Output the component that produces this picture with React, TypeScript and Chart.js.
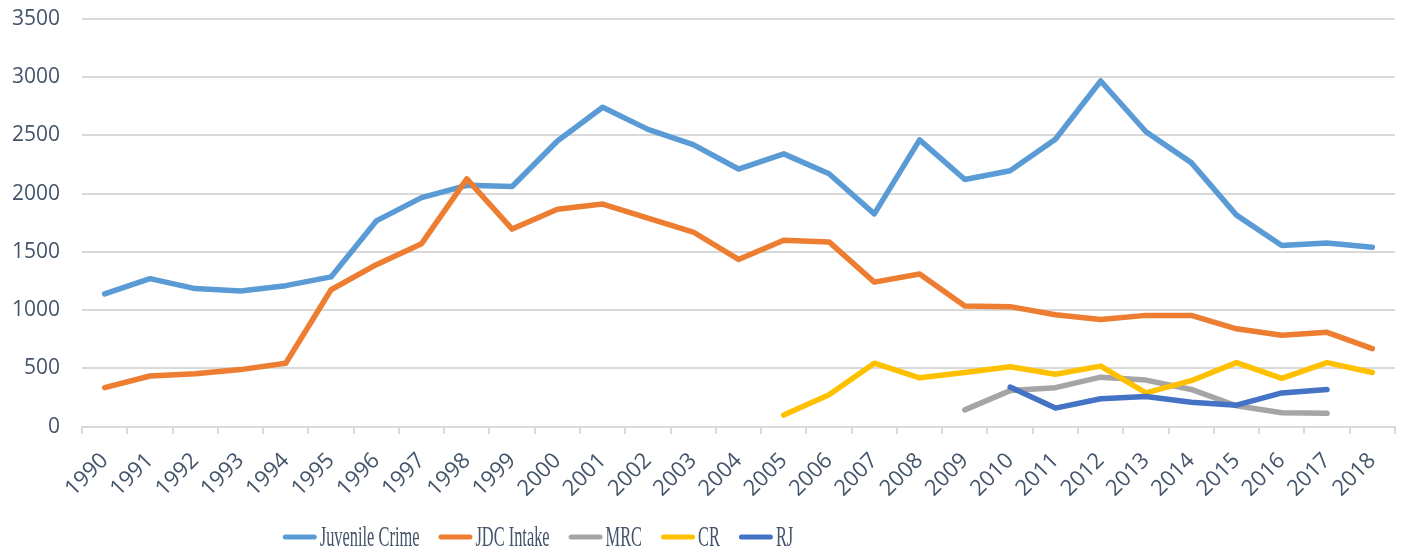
import React, { useEffect, useRef } from "react";
import { Chart, registerables } from "chart.js";

Chart.register(...registerables);

const years = [
  "1990", "1991", "1992", "1993", "1994", "1995", "1996", "1997", "1998", "1999",
  "2000", "2001", "2002", "2003", "2004", "2005", "2006", "2007", "2008", "2009",
  "2010", "2011", "2012", "2013", "2014", "2015", "2016", "2017", "2018",
];

const juvenileCrime = [
  1140, 1270, 1185, 1165, 1210, 1285, 1765, 1965, 2070, 2060,
  2450, 2740, 2550, 2420, 2210, 2340, 2170, 1825, 2460, 2120,
  2195, 2465, 2965, 2530, 2265, 1815, 1555, 1575, 1540,
];

const jdcIntake = [
  335, 435, 455, 490, 545, 1175, 1390, 1570, 2125, 1695,
  1865, 1910, 1790, 1670, 1435, 1600, 1585, 1240, 1310, 1035,
  1030, 960, 920, 955, 955, 840, 785, 810, 670,
];

const mrc = [
  null, null, null, null, null, null, null, null, null, null,
  null, null, null, null, null, null, null, null, null, 145,
  310, 335, 425, 400, 320, 180, 120, 115, null,
];

const cr = [
  null, null, null, null, null, null, null, null, null, null,
  null, null, null, null, null, 100, 275, 545, 420, 465,
  515, 450, 520, 290, 395, 550, 415, 550, 465,
];

const rj = [
  null, null, null, null, null, null, null, null, null, null,
  null, null, null, null, null, null, null, null, null, null,
  340, 160, 240, 260, 210, 185, 290, 320, null,
];

const seriesNames = ["Juvenile Crime", "JDC Intake", "MRC", "CR", "RJ"];
const seriesColors = ["#5B9BD5", "#ED7D31", "#A5A5A5", "#FFC000", "#4472C4"];
const yTicks = [0, 500, 1000, 1500, 2000, 2500, 3000, 3500];

const TEXT_COLOR = "#44546A";
const GRID_COLOR = "#D9D9D9";

const OFFSET_X = 16;
const OFFSET_Y = 16;

const legendPlugin = {
  id: "customLegend",
  afterDraw(chart: any) {
    const ctx = chart.ctx;
    const datasets = chart.data.datasets;
    const fontSize = 29;
    const sx = 0.565;
    const boxW = 34;
    const boxH = 5;
    const gapBoxText = 3;
    const gapItems = 19;
    ctx.save();
    ctx.font = `${fontSize}px "Liberation Serif", "Times New Roman", serif`;
    const widths = datasets.map((d: any) => ctx.measureText(d.label).width * sx);
    let total = 0;
    widths.forEach((w: number, i: number) => {
      total += boxW + gapBoxText + w + (i < widths.length - 1 ? gapItems : 0);
    });
    const centerX = 538 + OFFSET_X;
    let x = centerX - total / 2;
    const y = 537 + OFFSET_Y;
    datasets.forEach((d: any, i: number) => {
      ctx.strokeStyle = d.borderColor;
      ctx.lineWidth = boxH;
      ctx.lineCap = "round";
      ctx.beginPath();
      ctx.moveTo(x + boxH / 2, y);
      ctx.lineTo(x + boxW - boxH / 2, y);
      ctx.stroke();
      x += boxW + gapBoxText;
      ctx.save();
      ctx.translate(x, y);
      ctx.scale(sx, 1);
      ctx.fillStyle = TEXT_COLOR;
      ctx.textBaseline = "middle";
      ctx.textAlign = "left";
      ctx.fillText(d.label, 0, 1);
      ctx.restore();
      x += widths[i] + gapItems;
    });
    ctx.restore();
  },
};

export default function App() {
  const canvasRef = useRef<HTMLCanvasElement | null>(null);

  useEffect(() => {
    if (!canvasRef.current) return;
    const allSeries = [juvenileCrime, jdcIntake, mrc, cr, rj];
    const chart = new Chart(canvasRef.current, {
      type: "line",
      data: {
        labels: years,
        datasets: allSeries.map((values, i) => ({
          label: seriesNames[i],
          data: values,
          borderColor: seriesColors[i],
          backgroundColor: seriesColors[i],
          borderWidth: 5.5,
          pointRadius: 0,
          pointHoverRadius: 0,
          tension: 0,
          fill: false,
          spanGaps: false,
          borderCapStyle: "round",
          borderJoinStyle: "round",
          order: allSeries.length - 1 - i,
        })),
      },
      plugins: [legendPlugin],
      options: {
        animation: false,
        responsive: true,
        maintainAspectRatio: false,
        layout: { padding: { top: 0, right: 1, left: 6, bottom: 34 } },
        plugins: {
          legend: { display: false },
          tooltip: { enabled: false },
        },
        scales: {
          x: {
            type: "category",
            offset: true,
            grid: {
              offset: true,
              drawOnChartArea: false,
              drawTicks: true,
              tickLength: 7,
              color: GRID_COLOR,
              lineWidth: 2,
            },
            border: { display: true, color: GRID_COLOR, width: 2 },
            ticks: {
              autoSkip: false,
              maxRotation: 45,
              minRotation: 45,
              padding: 14,
              color: TEXT_COLOR,
              font: { family: '"Open Sans", "Liberation Sans", sans-serif', size: 22 },
            },
          },
          y: {
            min: 0,
            max: 3500,
            afterBuildTicks(axis: any) {
              axis.ticks = yTicks.map((v) => ({ value: v }));
            },
            grid: { color: GRID_COLOR, lineWidth: 2, drawTicks: false },
            border: { display: false },
            ticks: {
              padding: 22,
              color: TEXT_COLOR,
              font: { family: '"Open Sans", "Liberation Sans", sans-serif', size: 21 },
              callback: (v: any) => String(v),
            },
          },
        },
      },
    });
    return () => chart.destroy();
  }, []);

  return (
    <div
      style={{
        position: "fixed",
        left: -OFFSET_X,
        top: -OFFSET_Y,
        width: 1405 + OFFSET_X,
        height: 550 + OFFSET_Y,
      }}
    >
      <canvas ref={canvasRef} />
    </div>
  );
}
